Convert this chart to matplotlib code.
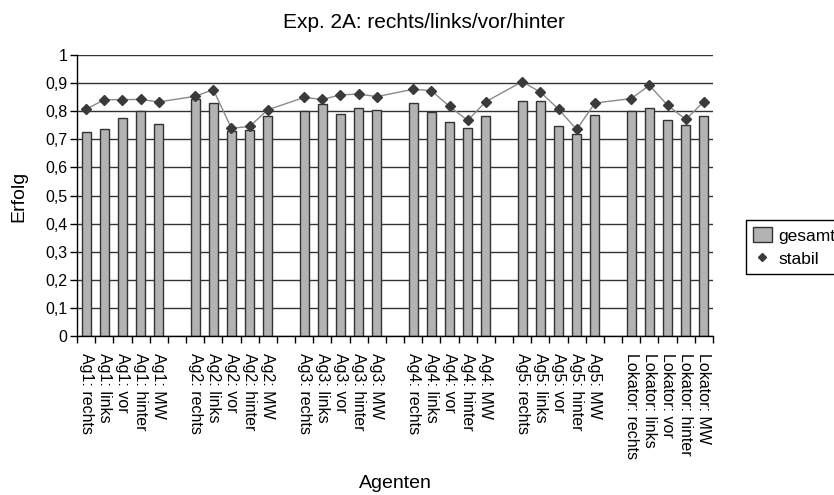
import numpy as np
import matplotlib.pyplot as plt

groups = ['Ag1', 'Ag2', 'Ag3', 'Ag4', 'Ag5', 'Lokator']
conditions = ['rechts', 'links', 'vor', 'hinter', 'MW']

gesamt = [
    [0.725, 0.735, 0.775, 0.800, 0.756],
    [0.843, 0.829, 0.728, 0.733, 0.782],
    [0.802, 0.824, 0.789, 0.813, 0.805],
    [0.828, 0.797, 0.763, 0.740, 0.782],
    [0.835, 0.835, 0.747, 0.718, 0.785],
    [0.802, 0.813, 0.767, 0.751, 0.782],
]
stabil = [
    [0.807, 0.841, 0.841, 0.842, 0.833],
    [0.853, 0.877, 0.739, 0.746, 0.805],
    [0.849, 0.842, 0.858, 0.861, 0.852],
    [0.878, 0.873, 0.817, 0.767, 0.834],
    [0.905, 0.868, 0.807, 0.735, 0.829],
    [0.845, 0.892, 0.821, 0.771, 0.834],
]
yticks = [0, 0.1, 0.2, 0.3, 0.4, 0.5, 0.6, 0.7, 0.8, 0.9, 1]
ytick_labels = ['0', '0,1', '0,2', '0,3', '0,4', '0,5', '0,6', '0,7', '0,8', '0,9', '1']

plt.rcParams['font.family'] = ['Liberation Sans', 'DejaVu Sans']

# one empty slot between the groups
slot = len(conditions) + 1
xs, labels, g_vals, s_vals = [], [], [], []
for gi, g in enumerate(groups):
    for ci, c in enumerate(conditions):
        xs.append(gi * slot + ci)
        labels.append(f'{g}: {c}')
        g_vals.append(gesamt[gi][ci])
        s_vals.append(stabil[gi][ci])
xs = np.array(xs)
n_slots = len(groups) * slot - 1

fig = plt.figure(figsize=(8.34, 4.95), dpi=100)
ax = fig.add_axes([77 / 834, 1 - 336 / 495, 636 / 834, 281 / 495])

ax.set_axisbelow(True)
ax.yaxis.grid(True, color='#333333', linewidth=1)
bars = ax.bar(xs, g_vals, width=0.5, color='#b3b3b3', edgecolor='#333333',
              linewidth=1, zorder=2)
ax.plot(xs, s_vals, '-', color='#8a8a8a', linewidth=1, zorder=3)
pts, = ax.plot(xs, s_vals, 'D', color='#3a3a3a', markersize=5,
               linestyle='none', zorder=4)

ax.set_xlim(-0.5, n_slots - 0.5)
ax.set_ylim(0, 1)
ax.set_yticks(yticks)
ax.set_yticklabels(ytick_labels, fontsize=11.5)
ax.set_xticks(xs)
ax.set_xticklabels(labels, rotation=-90, fontsize=11.5, va='top', ha='center')
ax.set_xticks(np.arange(-0.5, n_slots, 1), minor=True)
ax.tick_params(axis='x', which='major', length=0, pad=12)
ax.tick_params(axis='x', which='minor', length=5, width=1, direction='out')
ax.tick_params(axis='y', length=5, width=1, direction='out', pad=2)

for s in ['top', 'right']:
    ax.spines[s].set_visible(False)
for s in ['left', 'bottom']:
    ax.spines[s].set_color('black')
    ax.spines[s].set_linewidth(1)

fig.text(19 / 834, 1 - 196 / 495, 'Erfolg', fontsize=14, rotation=90,
         ha='center', va='center')
fig.text(395 / 834, 1 - 483 / 495, 'Agenten', fontsize=14,
         ha='center', va='center')
fig.text(424 / 834, 1 - 23 / 495, 'Exp. 2A: rechts/links/vor/hinter',
         fontsize=15, ha='center', va='center')

leg = fig.legend([bars, pts], ['gesamt', 'stabil'], loc='upper left',
                 bbox_to_anchor=(746 / 834, 1 - 220 / 495),
                 fontsize=12.5, frameon=True, fancybox=False, framealpha=1,
                 edgecolor='black', borderpad=0.4, handlelength=1.1,
                 handleheight=1.0, handletextpad=0.35, labelspacing=0.4,
                 borderaxespad=0, markerscale=0.9)
leg.get_frame().set_linewidth(1)

fig.savefig('out.png', dpi=100)
